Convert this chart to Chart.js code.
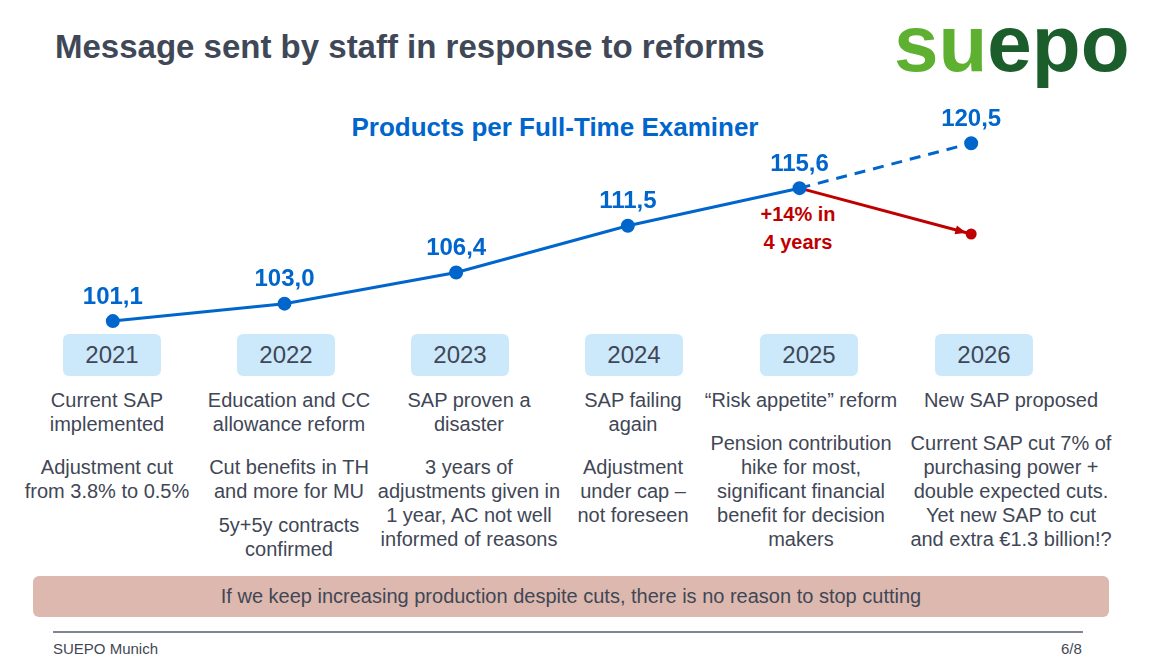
<!DOCTYPE html>
<html>
<head>
<meta charset="utf-8">
<script src="https://cdn.jsdelivr.net/npm/chart.js@4"></script>
<style>
    html, body { margin: 0; padding: 0; background: #fff; }
    body { width: 1156px; height: 662px; position: relative; overflow: hidden; font-family: "Liberation Sans", Arial, sans-serif; color: #3f4756; }
    #graph { position: absolute; left: 0; top: 0; z-index: 2; }
    .title { position: absolute; left: 55px; top: 28px; font-size: 33px; font-weight: bold; color: #404858; white-space: nowrap; }
    .logo { position: absolute; left: 894px; top: 4px; font-size: 80px; line-height: 80px; font-weight: bold; white-space: nowrap; }
    .logo .a { color: #5db030; }
    .logo .b { color: #1b5e2b; }
    .subtitle { position: absolute; left: 555px; top: 112px; transform: translateX(-50%); font-size: 26px; font-weight: bold; color: #0066cc; white-space: nowrap; }
    .note { position: absolute; left: 798px; top: 200px; transform: translateX(-50%); font-size: 20px; font-weight: bold; color: #c00000; text-align: center; line-height: 28px; white-space: nowrap; }
    .yearbox { position: absolute; top: 334px; width: 98px; height: 42px; transform: translateX(-50%); background: #cce9fb; border-radius: 6px; font-size: 24px; line-height: 42px; text-align: center; color: #3f4756; }
    .col { position: absolute; top: 388px; transform: translateX(-50%); font-size: 20px; line-height: 24px; text-align: center; white-space: nowrap; color: #3f4756; }
    .col .p2 { margin-top: 19px; }
    .col .p3 { margin-top: 10px; }
    .banner { position: absolute; left: 33px; top: 576px; width: 1076px; height: 41px; background: #ddb8ae; border-radius: 6px; font-size: 20px; line-height: 41px; text-align: center; color: #3f4756; }
    .rule { position: absolute; left: 53px; top: 631px; width: 1030px; height: 2px; background: #7f868f; }
    .foot { position: absolute; top: 640px; font-size: 15px; color: #3f4756; }
</style>
</head>
<body>
<div class="title">Message sent by staff in response to reforms</div>
<div class="logo"><span class="a">su</span><span class="b">epo</span></div>
<div class="subtitle">Products per Full-Time Examiner</div>
<div class="note">+14% in<br>4 years</div>
<div id="cols"></div>
<div class="banner">If we keep increasing production despite cuts, there is no reason to stop cutting</div>
<div class="rule"></div>
<div class="foot" style="left:53px">SUEPO Munich</div>
<div class="foot" style="left:1061px">6/8</div>
<canvas id="graph" width="1156" height="662"></canvas>

<script>
// data
const years = ['2021', '2022', '2023', '2024', '2025', '2026'];
const actual = [101.1, 103.0, 106.4, 111.5, 115.6, null];
const expected = [null, null, null, null, 115.6, 120.5];
const afterCuts = [null, null, null, null, 115.6, 110.6];

const headlines = [
    ['Current SAP', 'implemented'],
    ['Education and CC', 'allowance reform'],
    ['SAP proven a', 'disaster'],
    ['SAP failing', 'again'],
    ['\u201cRisk appetite\u201d reform'],
    ['New SAP proposed']
];
const details = [
    [['Adjustment cut', 'from 3.8% to 0.5%']],
    [['Cut benefits in TH', 'and more for MU'], ['5y+5y contracts', 'confirmed']],
    [['3 years of', 'adjustments given in', '1 year, AC not well', 'informed of reasons']],
    [['Adjustment', 'under cap \u2013', 'not foreseen']],
    [['Pension contribution', 'hike for most,', 'significant financial', 'benefit for decision', 'makers']],
    [['Current SAP cut 7% of', 'purchasing power +', 'double expected cuts.', 'Yet new SAP to cut', 'and extra \u20ac1.3 billion!?']]
];

// layout of the text columns under the chart
const boxCenters = [112, 286, 460, 634, 809, 984];
const colCenters = [107, 289, 469, 633, 801, 1011];

const BLUE = '#0066cc';
const RED = '#c00000';

const cols = document.getElementById('cols');
years.forEach((y, i) => {
    const box = document.createElement('div');
    box.className = 'yearbox';
    box.style.left = boxCenters[i] + 'px';
    box.textContent = y;
    cols.appendChild(box);

    const col = document.createElement('div');
    col.className = 'col';
    col.style.left = colCenters[i] + 'px';
    let html = '<div>' + headlines[i].join('<br>') + '</div>';
    details[i].forEach((p, k) => {
        html += '<div class="' + (k === 0 ? 'p2' : 'p3') + '">' + p.join('<br>') + '</div>';
    });
    col.innerHTML = html;
    cols.appendChild(col);
});

const fmt = (v) => v.toFixed(1).replace('.', ',');

const labelsPlugin = {
    id: 'valueLabels',
    afterDatasetsDraw(chart) {
        const c = chart.ctx;
        c.save();
        c.font = 'bold 24px "Liberation Sans", Arial, sans-serif';
        c.fillStyle = BLUE;
        c.textAlign = 'center';
        c.textBaseline = 'middle';
        [0, 1].forEach((di) => {
            const ds = chart.data.datasets[di];
            chart.getDatasetMeta(di).data.forEach((pt, i) => {
                const v = ds.data[i];
                if (v == null) return;
                if (di === 1 && actual[i] != null) return;
                c.fillText(fmt(v), pt.x, pt.y - 24);
            });
        });

        // arrow head on the red line
        const pts = chart.getDatasetMeta(2).data;
        const a = pts[4], b = pts[5];
        const ang = Math.atan2(b.y - a.y, b.x - a.x);
        const tipX = b.x - 5 * Math.cos(ang);
        const tipY = b.y - 5 * Math.sin(ang);
        c.fillStyle = RED;
        c.beginPath();
        c.moveTo(tipX, tipY);
        c.lineTo(tipX - 11 * Math.cos(ang) + 4.5 * Math.sin(ang), tipY - 11 * Math.sin(ang) - 4.5 * Math.cos(ang));
        c.lineTo(tipX - 11 * Math.cos(ang) - 4.5 * Math.sin(ang), tipY - 11 * Math.sin(ang) + 4.5 * Math.cos(ang));
        c.closePath();
        c.fill();
        c.restore();
    }
};

const ctx = document.getElementById('graph').getContext('2d');
new Chart(ctx, {
    type: 'line',
    data: {
        labels: years,
        datasets: [
            {
                label: 'Products per Full-Time Examiner',
                data: actual,
                borderColor: BLUE,
                backgroundColor: BLUE,
                borderWidth: 3,
                pointRadius: 5.5,
                tension: 0
            },
            {
                label: 'Expected',
                data: expected,
                borderColor: BLUE,
                backgroundColor: BLUE,
                borderWidth: 3,
                borderDash: [11, 8],
                pointRadius: [0, 0, 0, 0, 0, 5.5],
                tension: 0
            },
            {
                label: 'After cuts',
                data: afterCuts,
                borderColor: RED,
                backgroundColor: RED,
                borderWidth: 3,
                pointRadius: [0, 0, 0, 0, 0, 4],
                tension: 0,
                order: 5
            }
        ]
    },
    options: {
        responsive: false,
        animation: false,
        events: [],
        layout: {
            padding: { left: 27, right: 99, top: 102, bottom: 285 }
        },
        scales: {
            x: {
                type: 'category',
                display: false,
                offset: true
            },
            y: {
                display: false,
                min: 95,
                max: 125
            }
        },
        plugins: {
            legend: { display: false },
            tooltip: { enabled: false }
        }
    },
    plugins: [labelsPlugin]
});
</script>
</body>
</html>
